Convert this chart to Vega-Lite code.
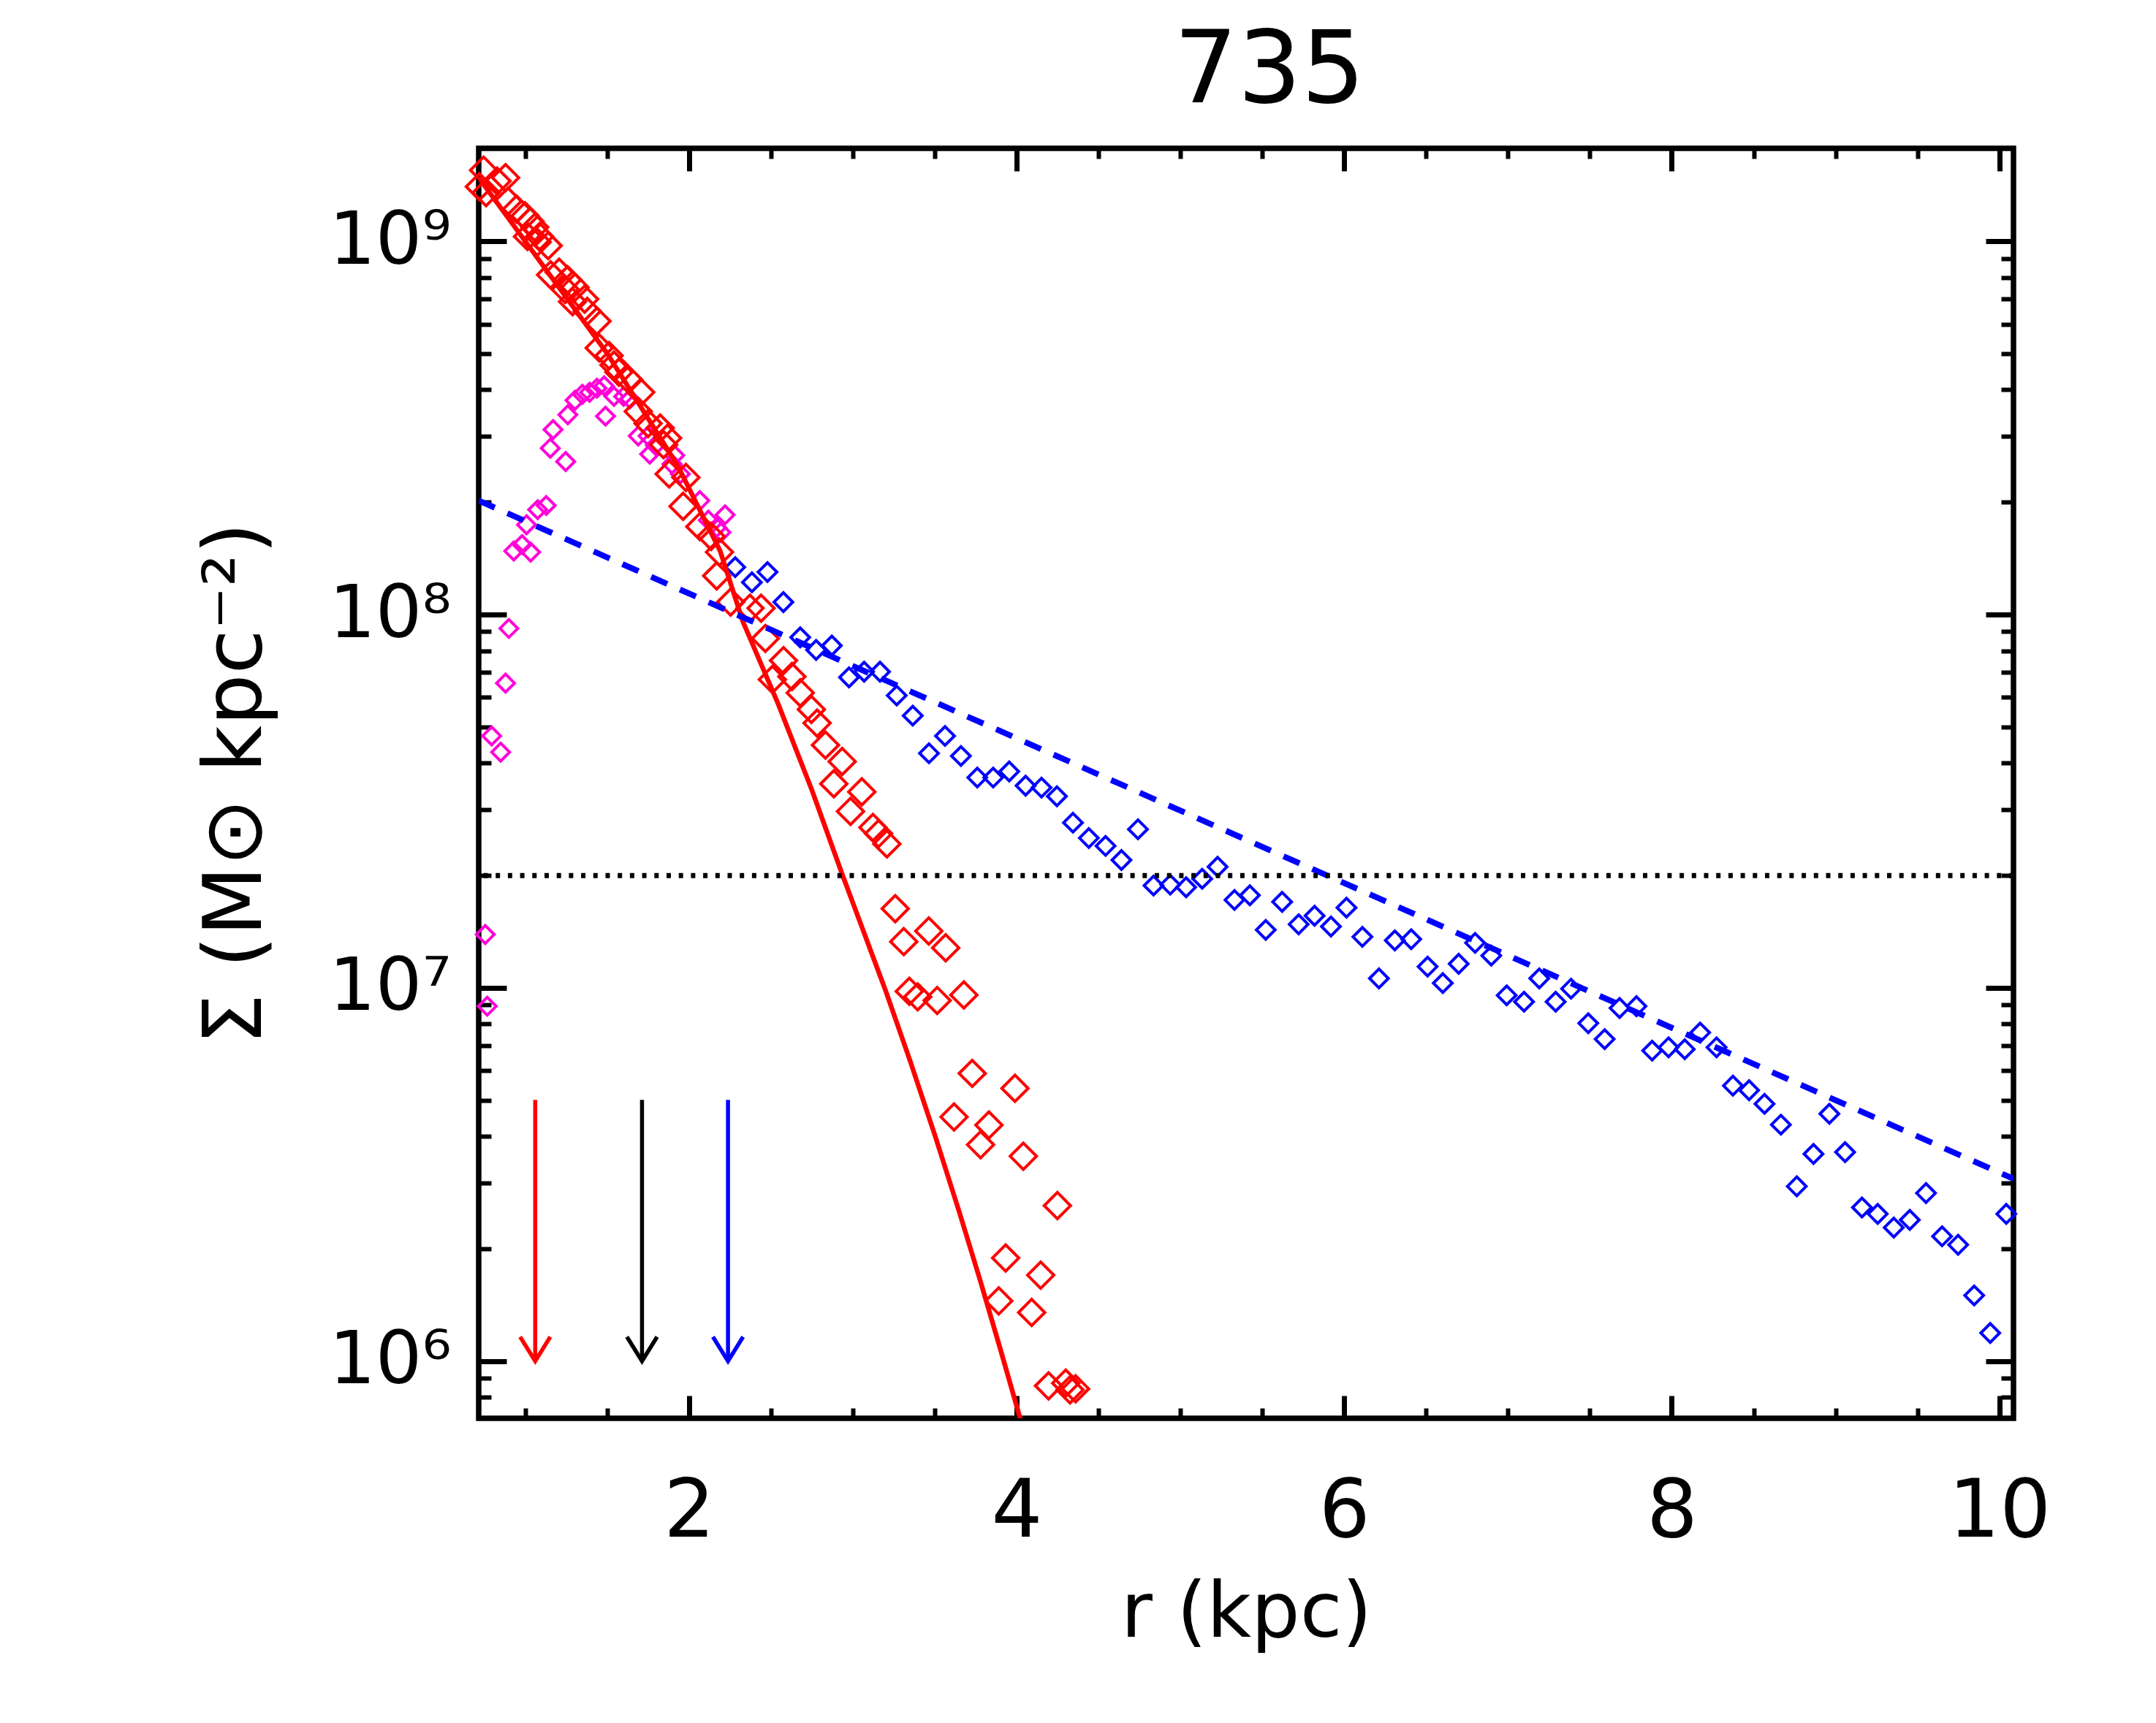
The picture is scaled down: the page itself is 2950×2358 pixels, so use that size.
{
  "$schema": "https://vega.github.io/schema/vega-lite/v6.json",
  "width": 2100,
  "height": 1738,
  "autosize": {"type": "none"},
  "padding": {"left": 655, "top": 203, "right": 195, "bottom": 417},
  "background": "white",
  "title": {"text": "735", "font": "DejaVu Sans", "fontSize": 137, "fontWeight": "normal", "color": "black", "anchor": "middle", "dx": 32, "dy": 135, "offset": 58, "baseline": "alphabetic"},
  "config": {
    "view": {"stroke": "black", "strokeWidth": 7.5},
    "axis": {"grid": false, "domain": false, "labelFlush": false, "labelOverlap": false, "tickColor": "black", "labelColor": "black", "titleColor": "black"}
  },
  "datasets": {
    "blue": [
      {"r": 2.282, "s": 1.34e8}, {"r": 2.384, "s": 1.22e8}, {"r": 2.479, "s": 1.30e8}, {"r": 2.576, "s": 1.08e8},
      {"r": 2.679, "s": 8.69e7}, {"r": 2.776, "s": 8.04e7}, {"r": 2.872, "s": 8.26e7}, {"r": 2.977, "s": 6.79e7},
      {"r": 3.069, "s": 7.03e7}, {"r": 3.166, "s": 7.03e7}, {"r": 3.268, "s": 6.07e7}, {"r": 3.366, "s": 5.36e7},
      {"r": 3.465, "s": 4.25e7}, {"r": 3.563, "s": 4.73e7}, {"r": 3.660, "s": 4.18e7}, {"r": 3.760, "s": 3.66e7},
      {"r": 3.857, "s": 3.66e7}, {"r": 3.955, "s": 3.80e7}, {"r": 4.055, "s": 3.48e7}, {"r": 4.152, "s": 3.44e7},
      {"r": 4.246, "s": 3.26e7}, {"r": 4.344, "s": 2.77e7}, {"r": 4.441, "s": 2.52e7}, {"r": 4.543, "s": 2.40e7},
      {"r": 4.640, "s": 2.20e7}, {"r": 4.741, "s": 2.66e7}, {"r": 4.836, "s": 1.88e7}, {"r": 4.938, "s": 1.89e7},
      {"r": 5.035, "s": 1.86e7}, {"r": 5.133, "s": 1.96e7}, {"r": 5.227, "s": 2.11e7}, {"r": 5.330, "s": 1.72e7},
      {"r": 5.424, "s": 1.77e7}, {"r": 5.521, "s": 1.43e7}, {"r": 5.621, "s": 1.70e7}, {"r": 5.722, "s": 1.48e7},
      {"r": 5.819, "s": 1.56e7}, {"r": 5.919, "s": 1.46e7}, {"r": 6.014, "s": 1.64e7}, {"r": 6.111, "s": 1.37e7},
      {"r": 6.212, "s": 1.06e7}, {"r": 6.309, "s": 1.34e7}, {"r": 6.409, "s": 1.35e7}, {"r": 6.509, "s": 1.14e7},
      {"r": 6.602, "s": 1.03e7}, {"r": 6.699, "s": 1.16e7}, {"r": 6.799, "s": 1.32e7}, {"r": 6.898, "s": 1.22e7},
      {"r": 6.992, "s": 9.55e6}, {"r": 7.098, "s": 9.18e6}, {"r": 7.191, "s": 1.06e7}, {"r": 7.291, "s": 9.18e6},
      {"r": 7.385, "s": 9.95e6}, {"r": 7.490, "s": 8.04e6}, {"r": 7.590, "s": 7.29e6}, {"r": 7.681, "s": 8.83e6},
      {"r": 7.784, "s": 8.93e6}, {"r": 7.880, "s": 6.79e6}, {"r": 7.980, "s": 6.93e6}, {"r": 8.079, "s": 6.85e6},
      {"r": 8.173, "s": 7.59e6}, {"r": 8.273, "s": 6.93e6}, {"r": 8.373, "s": 5.47e6}, {"r": 8.472, "s": 5.32e6},
      {"r": 8.566, "s": 4.89e6}, {"r": 8.666, "s": 4.30e6}, {"r": 8.763, "s": 2.94e6}, {"r": 8.865, "s": 3.59e6},
      {"r": 8.962, "s": 4.60e6}, {"r": 9.058, "s": 3.63e6}, {"r": 9.161, "s": 2.58e6}, {"r": 9.257, "s": 2.48e6},
      {"r": 9.355, "s": 2.28e6}, {"r": 9.453, "s": 2.39e6}, {"r": 9.552, "s": 2.82e6}, {"r": 9.650, "s": 2.16e6},
      {"r": 9.748, "s": 2.05e6}, {"r": 9.846, "s": 1.50e6}, {"r": 9.944, "s": 1.19e6}, {"r": 10.042, "s": 2.48e6}
    ],
    "red": [
      {"r": 0.72, "s": 1.40e9}, {"r": 0.746, "s": 1.55e9}, {"r": 0.761, "s": 1.35e9}, {"r": 0.828, "s": 1.45e9},
      {"r": 0.880, "s": 1.48e9}, {"r": 0.895, "s": 1.28e9}, {"r": 0.947, "s": 1.22e9}, {"r": 0.999, "s": 1.17e9},
      {"r": 1.029, "s": 1.13e9}, {"r": 1.058, "s": 1.09e9}, {"r": 1.014, "s": 1.03e9}, {"r": 1.088, "s": 1.03e9},
      {"r": 1.140, "s": 9.73e8}, {"r": 1.073, "s": 9.95e8}, {"r": 1.155, "s": 8.13e8}, {"r": 1.207, "s": 8.26e8},
      {"r": 1.259, "s": 7.89e8}, {"r": 1.244, "s": 7.43e8}, {"r": 1.304, "s": 7.53e8}, {"r": 1.289, "s": 6.89e8},
      {"r": 1.363, "s": 7.00e8}, {"r": 1.378, "s": 6.49e8}, {"r": 1.438, "s": 6.11e8}, {"r": 1.452, "s": 5.18e8},
      {"r": 1.512, "s": 4.94e8}, {"r": 1.542, "s": 4.66e8}, {"r": 1.572, "s": 4.46e8}, {"r": 1.631, "s": 4.26e8},
      {"r": 1.705, "s": 3.94e8}, {"r": 1.690, "s": 3.50e8}, {"r": 1.750, "s": 3.25e8}, {"r": 1.824, "s": 3.16e8},
      {"r": 1.869, "s": 2.97e8}, {"r": 1.845, "s": 2.85e8}, {"r": 1.879, "s": 2.38e8}, {"r": 1.981, "s": 2.33e8},
      {"r": 1.964, "s": 1.95e8}, {"r": 2.066, "s": 1.72e8}, {"r": 2.135, "s": 1.62e8}, {"r": 2.186, "s": 1.47e8},
      {"r": 2.169, "s": 1.27e8}, {"r": 2.254, "s": 1.08e8}, {"r": 2.372, "s": 1.04e8}, {"r": 2.440, "s": 1.04e8},
      {"r": 2.466, "s": 8.63e7}, {"r": 2.577, "s": 7.53e7}, {"r": 2.509, "s": 6.70e7}, {"r": 2.628, "s": 6.82e7},
      {"r": 2.679, "s": 6.17e7}, {"r": 2.747, "s": 5.57e7}, {"r": 2.782, "s": 5.12e7}, {"r": 2.833, "s": 4.47e7},
      {"r": 2.935, "s": 4.04e7}, {"r": 2.884, "s": 3.52e7}, {"r": 3.055, "s": 3.35e7}, {"r": 2.986, "s": 2.97e7},
      {"r": 3.123, "s": 2.69e7}, {"r": 3.157, "s": 2.59e7}, {"r": 3.208, "s": 2.43e7}, {"r": 3.259, "s": 1.63e7},
      {"r": 3.311, "s": 1.33e7}, {"r": 3.464, "s": 1.42e7}, {"r": 3.567, "s": 1.28e7}, {"r": 3.345, "s": 9.79e6},
      {"r": 3.396, "s": 9.46e6}, {"r": 3.515, "s": 9.25e6}, {"r": 3.678, "s": 9.57e6}, {"r": 3.729, "s": 5.90e6},
      {"r": 3.990, "s": 5.38e6}, {"r": 3.618, "s": 4.51e6}, {"r": 3.831, "s": 4.29e6}, {"r": 3.780, "s": 3.80e6},
      {"r": 4.041, "s": 3.54e6}, {"r": 4.249, "s": 2.61e6}, {"r": 3.933, "s": 1.89e6}, {"r": 4.147, "s": 1.70e6},
      {"r": 3.891, "s": 1.45e6}, {"r": 4.092, "s": 1.35e6}, {"r": 4.195, "s": 8.59e5}, {"r": 4.300, "s": 8.73e5},
      {"r": 4.360, "s": 8.43e5}, {"r": 4.326, "s": 8.38e5}
    ],
    "magenta": [
      {"r": 0.768, "s": 8.93e6}, {"r": 0.756, "s": 1.39e7}, {"r": 0.850, "s": 4.28e7}, {"r": 0.795, "s": 4.73e7},
      {"r": 0.880, "s": 6.55e7}, {"r": 0.900, "s": 9.18e7}, {"r": 0.930, "s": 1.48e8}, {"r": 0.981, "s": 1.54e8},
      {"r": 1.033, "s": 1.47e8}, {"r": 1.008, "s": 1.74e8}, {"r": 1.076, "s": 1.91e8}, {"r": 1.128, "s": 1.96e8},
      {"r": 1.153, "s": 2.79e8}, {"r": 1.247, "s": 2.57e8}, {"r": 1.170, "s": 3.13e8}, {"r": 1.260, "s": 3.43e8},
      {"r": 1.304, "s": 3.75e8}, {"r": 1.349, "s": 3.89e8}, {"r": 1.393, "s": 3.94e8}, {"r": 1.438, "s": 4.04e8},
      {"r": 1.490, "s": 3.40e8}, {"r": 1.482, "s": 4.10e8}, {"r": 1.542, "s": 3.84e8}, {"r": 1.601, "s": 3.84e8},
      {"r": 1.639, "s": 3.78e8}, {"r": 1.690, "s": 3.01e8}, {"r": 1.750, "s": 3.01e8}, {"r": 1.760, "s": 2.69e8},
      {"r": 1.795, "s": 2.84e8}, {"r": 1.913, "s": 2.67e8}, {"r": 1.896, "s": 2.53e8}, {"r": 1.947, "s": 2.38e8},
      {"r": 2.066, "s": 2.02e8}, {"r": 2.118, "s": 1.79e8}, {"r": 2.169, "s": 1.71e8}, {"r": 2.220, "s": 1.85e8},
      {"r": 2.195, "s": 1.66e8}
    ],
    "redfit": [
      {"r": 0.716, "s": 1.48e9}, {"r": 1.0, "s": 1.0e9}, {"r": 1.5, "s": 5.01e8}, {"r": 1.93, "s": 2.51e8},
      {"r": 2.19, "s": 1.48e8}, {"r": 2.33, "s": 9.55e7}, {"r": 2.545, "s": 5.75e7}, {"r": 2.75, "s": 3.39e7},
      {"r": 2.938, "s": 2.0e7}, {"r": 3.2, "s": 9.84e6}, {"r": 3.35, "s": 6.37e6}, {"r": 3.501, "s": 4.03e6},
      {"r": 3.65, "s": 2.51e6}, {"r": 3.775, "s": 1.66e6}, {"r": 3.9, "s": 1.08e6}, {"r": 4.022, "s": 7.02e5},
      {"r": 4.06, "s": 6.11e5}
    ],
    "bluefit": [
      {"r": 0.716, "s": 2.02e8}, {"r": 10.086, "s": 3.08e6}
    ],
    "arrows": [
      {"r": 1.061, "top": 5.01e6, "tip": 1.0e6, "comp": "bulge"},
      {"r": 1.713, "top": 5.01e6, "tip": 1.0e6, "comp": "half"},
      {"r": 2.238, "top": 5.01e6, "tip": 1.0e6, "comp": "disk"}
    ],
    "limit": [
      {"s": 2.0e7}
    ]
  },
  "resolve": {"axis": {"x": "independent", "y": "independent"}},
  "layer": [
    {
      "data": {"name": "magenta"},
      "mark": {"type": "point", "shape": "diamond", "filled": false, "color": "#ff00d8", "size": 600, "strokeWidth": 4, "opacity": 1},
      "encoding": {
        "x": {"field": "r", "type": "quantitative", "scale": {"domain": [0.716, 10.086], "nice": false, "zero": false},
          "axis": {"orient": "bottom", "values": [1, 1.5, 2.5, 3, 3.5, 4.5, 5, 5.5, 6.5, 7, 7.5, 8.5, 9, 9.5], "labels": false, "ticks": true, "tickSize": -14, "tickWidth": 6, "title": null}},
        "y": {"field": "s", "type": "quantitative", "scale": {"type": "log", "domain": [703000, 1774000000], "nice": false},
          "axis": {"orient": "left", "values": [800000, 900000, 2000000, 3000000, 4000000, 5000000, 6000000, 7000000, 8000000, 9000000, 20000000, 30000000, 40000000, 50000000, 60000000, 70000000, 80000000, 90000000, 200000000, 300000000, 400000000, 500000000, 600000000, 700000000, 800000000, 900000000], "labels": false, "ticks": true, "tickSize": -17, "tickWidth": 6, "title": null}}
      }
    },
    {
      "data": {"name": "red"},
      "mark": {"type": "point", "shape": "diamond", "filled": false, "color": "#ff0000", "size": 1300, "strokeWidth": 4, "opacity": 1},
      "encoding": {
        "x": {"field": "r", "type": "quantitative", "scale": {"domain": [0.716, 10.086], "nice": false, "zero": false},
          "axis": {"orient": "bottom", "values": [2, 4, 6, 8, 10], "labels": false, "ticks": true, "tickSize": -31, "tickWidth": 7, "title": null}},
        "y": {"field": "s", "type": "quantitative", "scale": {"type": "log", "domain": [703000, 1774000000], "nice": false},
          "axis": {"orient": "left", "values": [1000000, 10000000, 100000000, 1000000000], "labels": false, "ticks": true, "tickSize": -38, "tickWidth": 7, "title": null}}
      }
    },
    {
      "data": {"name": "blue"},
      "mark": {"type": "point", "shape": "diamond", "filled": false, "color": "#0000ff", "size": 660, "strokeWidth": 4, "opacity": 1},
      "encoding": {
        "x": {"field": "r", "type": "quantitative", "scale": {"domain": [0.716, 10.086], "nice": false, "zero": false},
          "axis": {"orient": "bottom", "values": [2, 4, 6, 8, 10], "format": "d", "ticks": false, "labelFont": "DejaVu Sans", "labelFontSize": 110, "labelPadding": 74,
            "title": "r (kpc)", "titleFont": "DejaVu Sans", "titleFontSize": 105, "titleFontWeight": "normal", "titlePadding": 32}},
        "y": {"field": "s", "type": "quantitative", "scale": {"type": "log", "domain": [703000, 1774000000], "nice": false},
          "axis": {"orient": "left", "values": [1000000, 10000000, 100000000, 1000000000], "ticks": false,
            "labelExpr": "datum.value < 5e6 ? '10⁶' : datum.value < 5e7 ? '10⁷' : datum.value < 5e8 ? '10⁸' : '10⁹'",
            "labelFont": "DejaVu Sans", "labelFontSize": 100, "labelPadding": 38,
            "title": "Σ (M⊙ kpc⁻²)", "titleFont": "DejaVu Sans", "titleFontSize": 111, "titleFontWeight": "normal", "titlePadding": 76}}
      }
    },
    {
      "data": {"name": "redfit"},
      "mark": {"type": "line", "color": "#ff0000", "strokeWidth": 6.5, "clip": true},
      "encoding": {
        "x": {"field": "r", "type": "quantitative", "scale": {"domain": [0.716, 10.086], "nice": false, "zero": false},
          "axis": {"orient": "top", "values": [2, 4, 6, 8, 10], "labels": false, "ticks": true, "tickSize": -31, "tickWidth": 7, "title": null}},
        "y": {"field": "s", "type": "quantitative", "scale": {"type": "log", "domain": [703000, 1774000000], "nice": false},
          "axis": {"orient": "right", "values": [1000000, 10000000, 100000000, 1000000000], "labels": false, "ticks": true, "tickSize": -38, "tickWidth": 7, "title": null}}
      }
    },
    {
      "data": {"name": "bluefit"},
      "mark": {"type": "line", "color": "#0000ff", "strokeWidth": 8, "strokeDash": [24, 19], "clip": true},
      "encoding": {
        "x": {"field": "r", "type": "quantitative", "scale": {"domain": [0.716, 10.086], "nice": false, "zero": false},
          "axis": {"orient": "top", "values": [1, 1.5, 2.5, 3, 3.5, 4.5, 5, 5.5, 6.5, 7, 7.5, 8.5, 9, 9.5], "labels": false, "ticks": true, "tickSize": -14, "tickWidth": 6, "title": null}},
        "y": {"field": "s", "type": "quantitative", "scale": {"type": "log", "domain": [703000, 1774000000], "nice": false},
          "axis": {"orient": "right", "values": [800000, 900000, 2000000, 3000000, 4000000, 5000000, 6000000, 7000000, 8000000, 9000000, 20000000, 30000000, 40000000, 50000000, 60000000, 70000000, 80000000, 90000000, 200000000, 300000000, 400000000, 500000000, 600000000, 700000000, 800000000, 900000000], "labels": false, "ticks": true, "tickSize": -17, "tickWidth": 6, "title": null}}
      }
    },
    {
      "data": {"name": "limit"},
      "mark": {"type": "rule", "color": "black", "strokeWidth": 7, "strokeDash": [6, 10.7]},
      "encoding": {
        "y": {"field": "s", "type": "quantitative", "scale": {"type": "log", "domain": [703000, 1774000000], "nice": false}, "axis": null}
      }
    },
    {
      "data": {"name": "arrows"},
      "mark": {"type": "rule", "strokeWidth": 5.5},
      "encoding": {
        "x": {"field": "r", "type": "quantitative", "scale": {"domain": [0.716, 10.086], "nice": false, "zero": false}, "axis": null},
        "y": {"field": "top", "type": "quantitative", "scale": {"type": "log", "domain": [703000, 1774000000], "nice": false}, "axis": null},
        "y2": {"field": "tip"},
        "color": {"field": "comp", "type": "nominal", "scale": {"domain": ["bulge", "half", "disk"], "range": ["#ff0000", "#000000", "#0000ff"]}, "legend": null}
      }
    },
    {
      "data": {"name": "arrows"},
      "mark": {"type": "point", "shape": "M-0.62,-1L0,0L0.62,-1", "filled": false, "size": 4436, "strokeWidth": 5.5, "opacity": 1},
      "encoding": {
        "x": {"field": "r", "type": "quantitative", "scale": {"domain": [0.716, 10.086], "nice": false, "zero": false}, "axis": null},
        "y": {"field": "tip", "type": "quantitative", "scale": {"type": "log", "domain": [703000, 1774000000], "nice": false}, "axis": null},
        "color": {"field": "comp", "type": "nominal", "scale": {"domain": ["bulge", "half", "disk"], "range": ["#ff0000", "#000000", "#0000ff"]}, "legend": null}
      }
    }
  ]
}
